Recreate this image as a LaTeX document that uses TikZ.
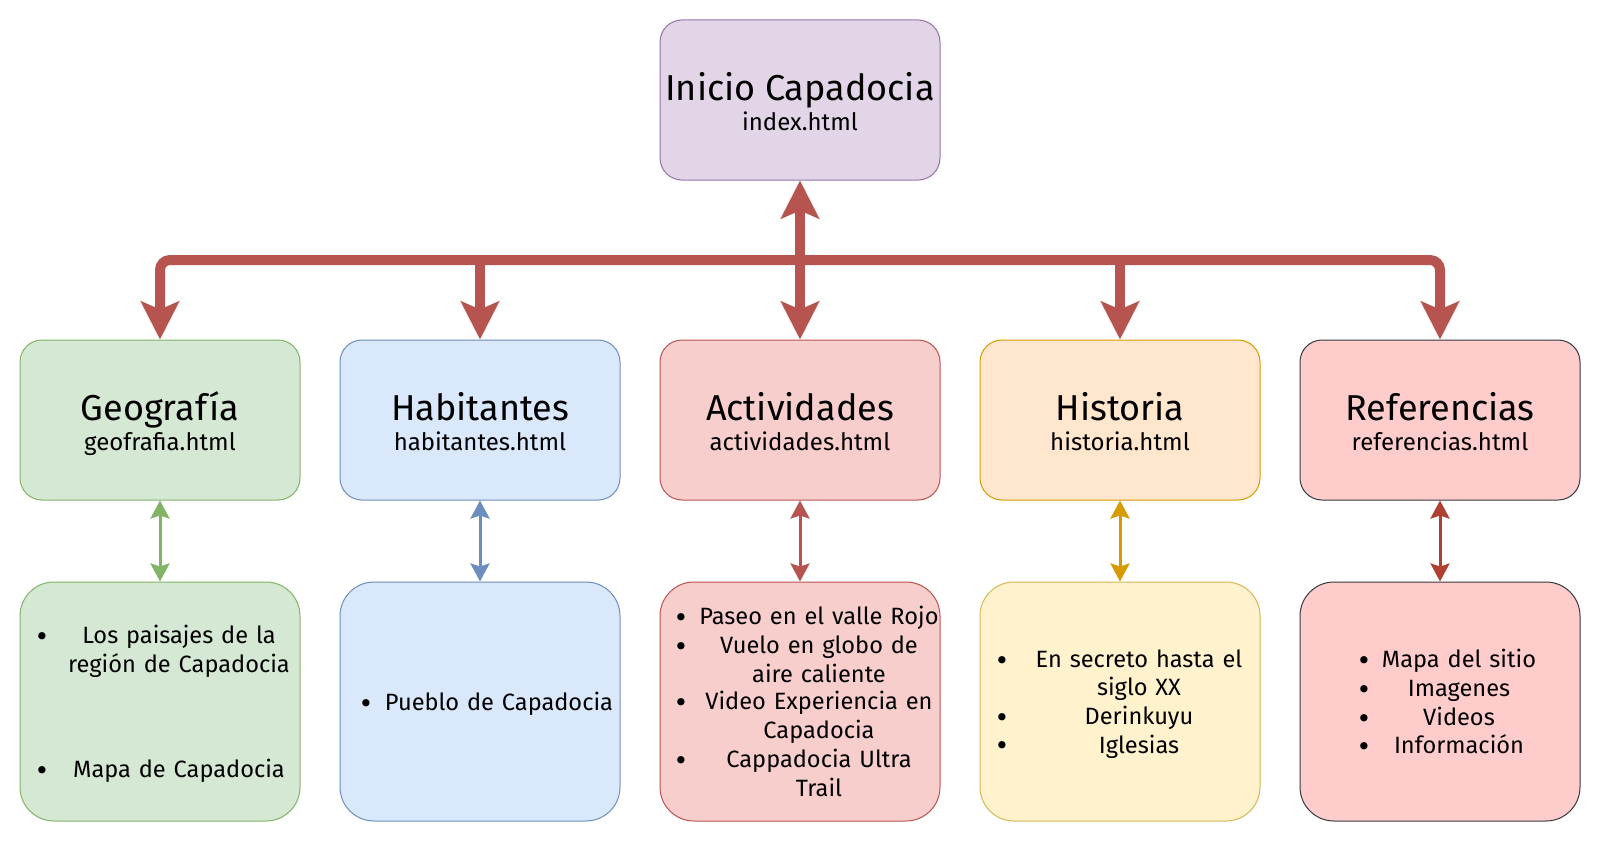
\documentclass[tikz,border=0pt]{standalone}
\usepackage{fontspec}
\setmainfont{Fira Sans}
\newfontfamily\dejavu{DejaVu Sans}
\usepackage{xcolor}
\usepackage{tikz}
\usetikzlibrary{arrows.meta, positioning, calc}
\setlength{\parindent}{0pt}

\definecolor{lilaFill}{HTML}{E1D5E7}\definecolor{lilaLine}{HTML}{9673A6}
\definecolor{verdeFill}{HTML}{D5E8D4}\definecolor{verdeLine}{HTML}{82B366}
\definecolor{azulFill}{HTML}{DAE8FC}\definecolor{azulLine}{HTML}{6C8EBF}
\definecolor{rojoFill}{HTML}{F8CECC}\definecolor{rojoLine}{HTML}{B85450}
\definecolor{naranjaFill}{HTML}{FFE6CC}\definecolor{naranjaLine}{HTML}{D79B00}
\definecolor{amarilloFill}{HTML}{FFF2CC}\definecolor{amarilloLine}{HTML}{D6B656}
\definecolor{rosaFill}{HTML}{FFCCCC}\definecolor{grisLine}{HTML}{36393D}
\definecolor{ladrillo}{HTML}{AE4132}

\newcommand{\lin}{\rule[-4.85pt]{0pt}{27.7pt}}
\newcommand{\punto}{\raisebox{-1.8pt}{\dejavu\fontsize{25}{25}\selectfont •}}
\newcommand{\bitem}[2]{\lin\makebox[0pt][l]{\hspace*{#1}\makebox[0pt]{\punto}}\makebox[0pt][l]{\hspace*{159pt}\makebox[0pt]{#2}}}
\newcommand{\bcont}[1]{\lin\makebox[0pt][l]{\hspace*{159pt}\makebox[0pt]{#1}}}
\newcommand{\titulo}[1]{{\fontsize{36}{36}\selectfont\rule{0pt}{38.7pt}#1}}
\newcommand{\archivo}[1]{#1\rule[-8pt]{0pt}{8pt}}

\begin{document}
\begin{tikzpicture}[
    x=1pt, y=-1pt,
    node distance=159pt and 39pt,
    pagebox/.style={rectangle, rounded corners=22pt, line width=1pt, minimum width=280pt, minimum height=160pt, align=center, font=\fontsize{24}{29.3}\selectfont},
    listbox/.style={rectangle, rounded corners=34pt, line width=1pt, minimum width=280pt, minimum height=239pt, text width=280pt, inner xsep=0pt, align=left, font=\fontsize{23.6}{27.7}\selectfont},
    bigarrow/.style={line width=10pt, draw=rojoLine, -{Stealth[length=38pt, width=38pt, inset=8pt]}},
    smallarrow/.style={line width=3pt, {Stealth[length=18pt, width=19pt, inset=3pt]}-{Stealth[length=18pt, width=19pt, inset=3pt]}}
]
    \useasboundingbox (0,0) rectangle (1601,843);

    \node[pagebox, fill=lilaFill, draw=lilaLine] (ini) at (800,100) {\titulo{Inicio Capadocia}\\\archivo{index.html}};

    \node[pagebox, fill=rojoFill, draw=rojoLine, below=of ini] (act) {\titulo{Actividades}\\\archivo{actividades.html}};
    \node[pagebox, fill=azulFill, draw=azulLine, left=of act] (hab) {\titulo{Habitantes}\\\archivo{habitantes.html}};
    \node[pagebox, fill=verdeFill, draw=verdeLine, left=of hab] (geo) {\titulo{Geografía}\\\archivo{geofrafia.html}};
    \node[pagebox, fill=naranjaFill, draw=naranjaLine, right=of act] (his) {\titulo{Historia}\\\archivo{historia.html}};
    \node[pagebox, fill=rosaFill, draw=grisLine, right=of his] (ref) {\titulo{Referencias}\\\archivo{referencias.html}};

    \node[listbox, fill=verdeFill, draw=verdeLine, below=81pt of geo] (geoList) {\bitem{22pt}{Los paisajes de la}\\\bcont{región de Capadocia}\\[76.3pt]\bitem{22pt}{Mapa de Capadocia}};
    \node[listbox, fill=azulFill, draw=azulLine, below=81pt of hab] (habList) {\bitem{26pt}{Pueblo de Capadocia}};
    \node[listbox, fill=rojoFill, draw=rojoLine, below=81pt of act] (actList) {\bitem{21pt}{Paseo en el valle Rojo}\\\bitem{21pt}{Vuelo en globo de}\\\bcont{aire caliente}\\\bitem{21pt}{Video Experiencia en}\\\bcont{Capadocia}\\\bitem{21pt}{Cappadocia Ultra}\\\bcont{Trail}};
    \node[listbox, fill=amarilloFill, draw=amarilloLine, below=81pt of his] (hisList) {\bitem{22pt}{En secreto hasta el}\\\bcont{siglo XX}\\\bitem{22pt}{Derinkuyu}\\\bitem{22pt}{Iglesias}};
    \node[listbox, fill=rosaFill, draw=grisLine, below=81pt of ref] (refList) {\bitem{64pt}{Mapa del sitio}\\\bitem{64pt}{Imagenes}\\\bitem{64pt}{Videos}\\\bitem{64pt}{Información}};

    \coordinate (hub) at ($(ini.south)!0.5!(act.north)$);

    \draw[bigarrow, rounded corners=10pt] (hub) -| (geo);
    \draw[bigarrow, rounded corners=10pt] (hub) -| (ref);
    \draw[bigarrow] (hub) -| (hab);
    \draw[bigarrow] (hub) -| (his);
    \draw[bigarrow, {Stealth[length=38pt, width=38pt, inset=8pt]}-{Stealth[length=38pt, width=38pt, inset=8pt]}] (ini) -- (act);

    \draw[smallarrow, verdeLine] (geo) -- (geoList);
    \draw[smallarrow, azulLine] (hab) -- (habList);
    \draw[smallarrow, rojoLine] (act) -- (actList);
    \draw[smallarrow, naranjaLine] (his) -- (hisList);
    \draw[smallarrow, ladrillo] (ref) -- (refList);
\end{tikzpicture}
\end{document}
